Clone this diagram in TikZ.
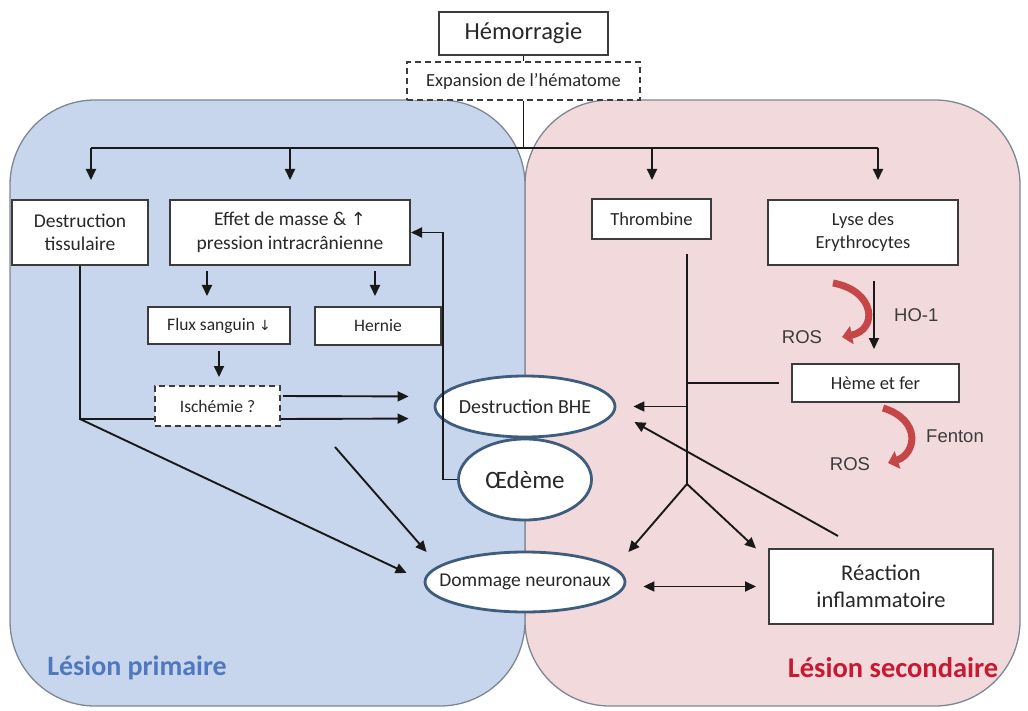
\documentclass[tikz,border=0pt]{standalone}
\usepackage{fontspec}
\setmainfont{Carlito}
\newfontfamily\arialfont{Liberation Sans}
\newfontfamily\symfont{DejaVu Sans}
\usetikzlibrary{arrows.meta,shapes.geometric,calc}
\definecolor{bluefill}{RGB}{199,214,237}
\definecolor{pinkfill}{RGB}{242,217,219}
\definecolor{regionedge}{RGB}{125,135,148}
\definecolor{boxedge}{RGB}{60,60,60}
\definecolor{elledge}{RGB}{62,92,125}
\definecolor{linec}{RGB}{25,25,25}
\definecolor{rosred}{RGB}{196,70,70}
\definecolor{primblue}{RGB}{80,120,190}
\definecolor{secred}{RGB}{200,25,50}
\definecolor{labelgray}{RGB}{60,60,60}
\definecolor{textc}{RGB}{40,40,40}
% ellipse text that does not enlarge its shape
\newcommand{\elltext}[1]{\makebox[0pt]{#1}}
\begin{document}
\begin{tikzpicture}[x=1pt,y=-1pt,
  box/.style={draw=boxedge, line width=2pt, fill=white, inner sep=0pt, align=center,
    text=textc, font=\fontsize{19.5}{23.5}\selectfont},
  dbox/.style={box, dash pattern=on 6pt off 4pt},
  ell/.style={ellipse, draw=elledge, line width=2.8pt, fill=white, inner sep=0pt,
    text=textc, font=\fontsize{20}{24}\selectfont},
  conn/.style={draw=linec, line width=1.9pt},
  arr/.style={conn, -{Triangle[length=11pt,width=10pt]}},
  dbl/.style={conn, {Triangle[length=11pt,width=10pt]}-{Triangle[length=11pt,width=10pt]}},
  rosarrow/.style={draw=rosred, line width=7pt, -{Triangle[length=10pt,width=18pt]}},
  region/.style={draw=regionedge, line width=1.3pt, rounded corners=85pt},
  roslabel/.style={font=\arialfont\fontsize{18.5}{20}\selectfont, text=labelgray, inner sep=0pt},
]
\useasboundingbox (0,0) rectangle (1028,711);

% the two lesion areas
\draw[region, fill=pinkfill] (525,100) rectangle (1020,706);
\draw[region, fill=bluefill] (10,100) rectangle (525,706);

% top of the cascade
\node[box, minimum width=169, minimum height=43, font=\fontsize{24.5}{28}\selectfont] (hem) at (523.5,33.5) {Hémorragie};
\node[dbox, minimum width=233, minimum height=38, font=\fontsize{18.5}{22}\selectfont] (exp) at (523.5,81) {Expansion de l'hématome};

% primary lesion boxes
\node[box, minimum width=136, minimum height=65] (dt) at (80,232.5) {Destruction\\tissulaire};
\node[box, minimum width=240, minimum height=65] (effet) at (290,232.5) {Effet de masse \& {\symfont\fontsize{18}{20}\selectfont ↑}\\pression intracrânienne};
\node[box, minimum width=142, minimum height=37, font=\fontsize{17.5}{20}\selectfont] (flux) at (219,325.5) {Flux sanguin {\symfont\fontsize{14}{16}\selectfont ↓}};
\node[box, minimum width=126, minimum height=38, font=\fontsize{17.5}{20}\selectfont] (hernie) at (378,326) {Hernie};
\node[dbox, minimum width=125, minimum height=40, font=\fontsize{17.5}{20}\selectfont] (isch) at (217.5,406) {Ischémie ?};

% secondary lesion boxes
\node[box, minimum width=119, minimum height=40, font=\fontsize{18.5}{22}\selectfont] (throm) at (651.5,219) {Thrombine};
\node[box, minimum width=190, minimum height=65, font=\fontsize{18.5}{23}\selectfont] (lyse) at (863,232.5) {Lyse des\\Erythrocytes};
\node[box, minimum width=167, minimum height=38, font=\fontsize{18.5}{22}\selectfont] (heme) at (875.5,383) {Hème et fer};
\node[box, minimum width=224, minimum height=75, font=\fontsize{22.5}{27}\selectfont] (reac) at (881,586.5) {Réaction\\inflammatoire};

% central outcomes
\node[ell, minimum width=180, minimum height=61] (bhe) at (525,406.5) {\elltext{Destruction BHE}};
\node[ell, minimum width=133, minimum height=81, font=\fontsize{25}{29}\selectfont] (oed) at (525,479.5) {\elltext{Œdème}};
\node[ell, minimum width=200, minimum height=60, font=\fontsize{19.5}{23}\selectfont] (dom) at (525,582) {\elltext{Dommage neuronaux}};

% branching below the haematoma expansion
\coordinate (split) at (523.5,148);
\coordinate (b1) at (91,148);
\coordinate (b2) at (290,148);
\coordinate (b3) at (652,148);
\coordinate (b4) at (878,148);
\draw[conn] (hem) -- (exp);
\draw[conn] (exp.south) -- (split);
\draw[conn] (b1) -- (b4);
\draw[arr] (b1) -- ++(0,32);
\draw[arr] (b2) -- ++(0,32);
\draw[arr] (b3) -- ++(0,32);
\draw[arr] (b4) -- ++(0,32);

% mass effect consequences
\draw[arr, shorten <=5pt, shorten >=10pt] ([xshift=-83pt]effet.south) -- ([xshift=-12pt]flux.north);
\draw[arr, shorten <=5pt, shorten >=10pt] ([xshift=85pt]effet.south) -- ([xshift=-3pt]hernie.north);
\draw[arr, shorten <=6pt, shorten >=8pt] (flux.south) -- (flux.south |- isch.north);
\draw[arr, shorten <=2pt, shorten >=25pt] ([yshift=10pt]isch.east) -- ([yshift=10pt]bhe.west);

% tissue destruction path
\coordinate (corner) at ($(dt.south)+(0,153)$);
\draw[conn] (dt.south) -- (corner) -- (corner -| isch.west);
\draw[arr, shorten >=25pt] (corner -| isch.east) -- ([yshift=-12pt]bhe.west);
\draw[arr] (corner) -- ($(dom.west)+(-17,-9)$);
\coordinate (freestart) at (335,447);
\draw[arr] (freestart) -- ($(dom.west)+(3,-30)$);

% oedema feeds back on the mass effect
\draw[arr] (oed.west) -- ++(-14,0) |- (effet.east);

% thrombin trunk
\coordinate (tv) at ($(throm.south)+(35.5,14)$);
\coordinate (fork) at ($(throm.south)+(35.5,244)$);
\draw[conn] (tv) -- (fork);
\draw[conn] ([xshift=-12pt]heme.west) -- (heme.west -| tv);
\draw[arr, shorten >=17pt] (bhe.east -| tv) -- (bhe.east);
\draw[arr] (fork) -- ($(dom.east)+(2,-30)$);
\draw[arr] (fork) -- ($(reac.west)+(-12,-38)$);
\draw[arr] ($(reac.north)+(-43,-12)$) -- ($(bhe.east)+(18,15.5)$);
\draw[dbl] ($(dom.east)+(17,4.5)$) -- ($(reac.west)+(-12,0)$);

% erythrocyte lysis to heme and iron
\draw[arr] ($(lyse.south)+(11,15)$) -- ($(heme.north)+(-1.5,-14)$);
\node[roslabel, anchor=west] (ho) at (894,315) {HO-1};

% reactive oxygen species
\draw[rosarrow] (833,283) .. controls (876,291) and (878,330) .. (842,337);
\node[roslabel] (ros1) at (802,337) {ROS};
\draw[rosarrow] (883,408) .. controls (922,420) and (916,454) .. (888,463);
\node[roslabel] (ros2) at (850,464) {ROS};
\node[roslabel, anchor=west] (fenton) at (926,436) {Fenton};

% lesion labels
\node[font=\bfseries\fontsize{28}{32}\selectfont, text=primblue] (prim) at (137,668) {Lésion primaire};
\node[font=\bfseries\fontsize{28.5}{32}\selectfont, text=secred] (sec) at (893,668) {Lésion secondaire};
\end{tikzpicture}
\end{document}
